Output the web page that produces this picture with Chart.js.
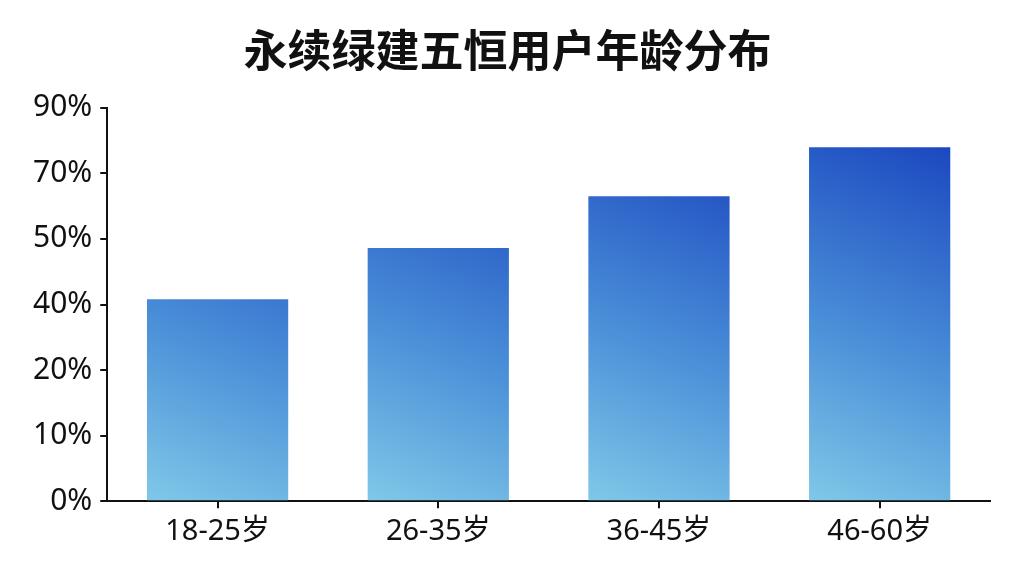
<!DOCTYPE html>
<html>
<head>
<meta charset="utf-8">
<script src="https://cdn.jsdelivr.net/npm/chart.js@4.4.0/dist/chart.umd.min.js"></script>
<style>
  html, body { margin: 0; padding: 0; background: #fff; }
  #wrap { width: 1024px; height: 576px; }
</style>
</head>
<body>
<div id="wrap"><canvas id="canvas" width="1024" height="576"></canvas></div>
<script>
// 数据
var ageGroups = ['18-25岁', '26-35岁', '36-45岁', '46-60岁'];
var userShare = [40.8, 48.6, 63, 78];          // %
var tickLabels = [0, 10, 20, 40, 50, 70, 90];   // 轴上标注的百分比 (间距不均)

var FONT = '"Noto Sans", "Noto Sans CJK SC", sans-serif';

// 百分比 -> 轴位置 (刻度等距, 标签不均, 分段线性)
function toAxis(v){
	for(var i = 1; i < tickLabels.length; i++){
		if(v <= tickLabels[i]){
			var a = tickLabels[i-1], b = tickLabels[i];
			return (i-1) + (v - a) / (b - a);
		}
	}
	return tickLabels.length - 1;
}

function barGradient(context){
	var chart = context.chart;
	var area = chart.chartArea;
	var xs = chart.scales.x;
	if(!area || !xs || context.dataIndex == undefined) return '#3a7bd5';
	var cx = xs.getPixelForValue(context.dataIndex);
	var half = (area.right - area.left) / ageGroups.length * 0.32;
	if(!isFinite(cx) || !isFinite(half)) return '#3a7bd5';
	var g = chart.ctx.createLinearGradient(cx - half, area.bottom, cx + half, area.top + 40);
	g.addColorStop(0, '#80c8e8');
	g.addColorStop(0.45, '#4a8fd8');
	g.addColorStop(1, '#1c48c0');
	return g;
}

var ctx = document.getElementById('canvas').getContext('2d');
new Chart(ctx, {
	type: 'bar',
	data: {
		labels: ageGroups,
		datasets: [{
			data: userShare.map(toAxis),
			backgroundColor: barGradient,
			borderWidth: 0,
			categoryPercentage: 0.64,
			barPercentage: 1
		}]
	},
	options: {
		responsive: false,
		animation: false,
		layout: { padding: { left: 25, right: 34, bottom: 21 } },
		plugins: {
			legend: { display: false },
			tooltip: { enabled: false },
			title: {
				display: true,
				text: '永续绿建五恒用户年龄分布',
				color: '#111',
				font: { family: '"Noto Sans CJK SC"', size: 44, weight: 'bold' },
				padding: { top: 24, bottom: 31 }
			}
		},
		scales: {
			x: {
				grid: { display: true, drawOnChartArea: false, offset: false, tickLength: 7, color: '#111', lineWidth: 2 },
				border: { color: '#111', width: 2 },
				ticks: { color: '#111', padding: 6, font: { family: FONT, size: 29 } }
			},
			y: {
				min: 0,
				max: tickLabels.length - 1,
				grid: { display: true, drawOnChartArea: false, tickLength: 7, color: '#111', lineWidth: 2 },
				border: { color: '#111', width: 2 },
				ticks: {
					stepSize: 1,
					color: '#111',
					padding: 8,
					font: { family: FONT, size: 30 },
					callback: function(v){ return tickLabels[v] + '%'; }
				}
			}
		}
	}
});
</script>
</body>
</html>
